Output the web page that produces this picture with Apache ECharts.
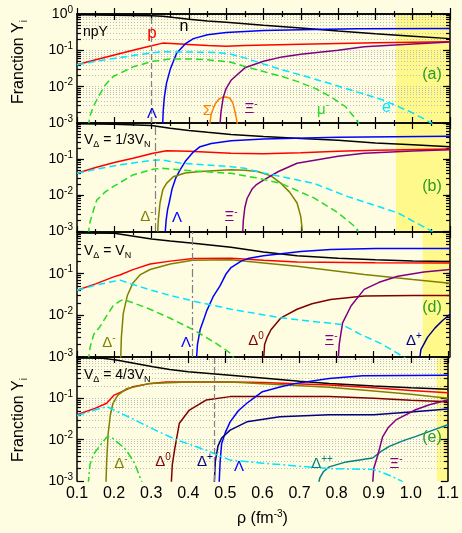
<!DOCTYPE html>
<html><head><meta charset="utf-8">
<script src="https://cdn.jsdelivr.net/npm/echarts@6/dist/echarts.min.js"></script>
<style>html,body{margin:0;padding:0;background:#fefce1}#c{width:462px;height:533px}</style>
</head><body><div id="c"></div><script>
// ---------- data: [rho, fraction] ----------
// panel (a) npY
const a_n  = [[0.1,0.95],[0.2,0.93],[0.3,0.9],[0.33,0.87],[0.36,0.8],[0.4,0.72],[0.45,0.64],[0.5,0.59],[0.6,0.49],[0.7,0.41],[0.8,0.34],[0.9,0.285],[1.0,0.245],[1.1,0.21]];
const a_p  = [[0.1,0.04],[0.15,0.055],[0.2,0.074],[0.25,0.1],[0.3,0.134],[0.33,0.158],[0.4,0.145],[0.45,0.135],[0.5,0.13],[0.55,0.135],[0.7,0.148],[0.9,0.162],[1.1,0.172]];
const a_L  = [[0.3295,0.0008],[0.331,0.002],[0.334,0.005],[0.34,0.0125],[0.35,0.03],[0.367,0.083],[0.39,0.15],[0.412,0.21],[0.45,0.27],[0.5,0.31],[0.6,0.35],[0.7,0.37],[0.85,0.39],[1.1,0.4]];
const a_S  = [[0.455,0.0008],[0.46,0.0018],[0.47,0.0033],[0.48,0.0045],[0.49,0.0051],[0.5,0.0052],[0.51,0.0048],[0.518,0.0035],[0.524,0.002],[0.528,0.0012],[0.531,0.0008]];
const a_X  = [[0.483,0.0008],[0.486,0.002],[0.492,0.005],[0.5,0.009],[0.513,0.015],[0.55,0.033],[0.6,0.05],[0.65,0.066],[0.7,0.078],[0.8,0.1],[0.87,0.126],[1.0,0.15],[1.1,0.17]];
const a_mu = [[0.13,0.0008],[0.135,0.0016],[0.145,0.003],[0.153,0.0043],[0.175,0.011],[0.197,0.019],[0.25,0.035],[0.304,0.05],[0.35,0.058],[0.4,0.058],[0.45,0.055],[0.513,0.047],[0.55,0.036],[0.6,0.026],[0.65,0.019],[0.69,0.014],[0.74,0.0088],[0.78,0.0053],[0.82,0.0028],[0.85,0.0012],[0.86,0.0008]];
const a_e  = [[0.1,0.04],[0.15,0.05],[0.2,0.06],[0.25,0.072],[0.3,0.085],[0.33,0.091],[0.4,0.09],[0.45,0.088],[0.48,0.086],[0.513,0.078],[0.55,0.062],[0.6,0.042],[0.65,0.029],[0.7,0.021],[0.78,0.012],[0.85,0.0072],[0.92,0.0043],[1.0,0.0019],[1.05,0.001],[1.06,0.0008]];
// panel (b) V_D = 1/3 V_N
const b_n  = [[0.1,0.95],[0.2,0.93],[0.3,0.85],[0.35,0.72],[0.4,0.62],[0.45,0.55],[0.513,0.48],[0.6,0.42],[0.7,0.37],[0.8,0.33],[0.9,0.28],[1.0,0.25],[1.1,0.22]];
const b_p  = [[0.1,0.04],[0.15,0.058],[0.2,0.08],[0.25,0.105],[0.304,0.144],[0.34,0.17],[0.4,0.165],[0.513,0.144],[0.6,0.14],[0.7,0.15],[0.8,0.165],[0.9,0.175],[1.1,0.19]];
const b_L  = [[0.336,0.0008],[0.339,0.002],[0.343,0.004],[0.347,0.006],[0.355,0.015],[0.365,0.03],[0.376,0.049],[0.39,0.085],[0.41,0.15],[0.43,0.22],[0.46,0.27],[0.513,0.32],[0.6,0.36],[0.8,0.4],[1.1,0.43]];
const b_Dm = [[0.316,0.0008],[0.318,0.002],[0.3225,0.006],[0.33,0.014],[0.34,0.021],[0.358,0.032],[0.39,0.041],[0.43,0.045],[0.513,0.05],[0.55,0.049],[0.584,0.045],[0.62,0.034],[0.647,0.021],[0.67,0.012],[0.69,0.006],[0.7,0.0025],[0.705,0.0008]];
const b_X  = [[0.544,0.0008],[0.546,0.002],[0.55,0.0045],[0.556,0.008],[0.57,0.015],[0.58,0.019],[0.6,0.026],[0.64,0.045],[0.69,0.076],[0.8,0.12],[0.87,0.144],[1.0,0.168],[1.1,0.18]];
const b_mu = [[0.13,0.0008],[0.135,0.0018],[0.145,0.004],[0.153,0.0072],[0.175,0.012],[0.197,0.017],[0.25,0.036],[0.304,0.052],[0.33,0.055],[0.43,0.045],[0.513,0.04],[0.58,0.03],[0.647,0.021],[0.735,0.0083],[0.8,0.0032],[0.85,0.0012],[0.855,0.0008]];
const b_e  = [[0.1,0.04],[0.15,0.052],[0.2,0.065],[0.25,0.078],[0.304,0.092],[0.33,0.094],[0.376,0.077],[0.45,0.068],[0.513,0.061],[0.55,0.055],[0.6,0.041],[0.735,0.021],[0.826,0.009],[0.96,0.0032],[1.05,0.001],[1.06,0.0008]];
// panel (d) V_D = V_N
const d_n  = [[0.1,0.95],[0.2,0.93],[0.3,0.68],[0.35,0.61],[0.412,0.54],[0.513,0.43],[0.6,0.33],[0.69,0.27],[0.8,0.235],[0.9,0.215],[1.0,0.2],[1.1,0.195]];
const d_p  = [[0.1,0.04],[0.15,0.057],[0.2,0.085],[0.215,0.093],[0.25,0.125],[0.296,0.17],[0.35,0.2],[0.412,0.23],[0.513,0.235],[0.6,0.21],[0.69,0.19],[0.9,0.182],[1.1,0.18]];
const d_Dm = [[0.217,0.0008],[0.219,0.003],[0.224,0.011],[0.235,0.03],[0.25,0.06],[0.27,0.095],[0.296,0.126],[0.35,0.17],[0.41,0.21],[0.513,0.215],[0.6,0.18],[0.69,0.15],[0.87,0.096],[1.0,0.072],[1.1,0.059]];
const d_L  = [[0.42,0.0008],[0.423,0.002],[0.43,0.0045],[0.44,0.008],[0.448,0.013],[0.465,0.028],[0.483,0.05],[0.5,0.1],[0.513,0.14],[0.54,0.2],[0.558,0.23],[0.6,0.27],[0.647,0.3],[0.7,0.34],[0.78,0.38],[0.9,0.4],[1.1,0.4]];
const d_D0 = [[0.6,0.0008],[0.603,0.002],[0.61,0.003],[0.62,0.0045],[0.647,0.0087],[0.69,0.014],[0.73,0.019],[0.78,0.024],[0.87,0.029],[1.0,0.03],[1.1,0.03]];
const d_X  = [[0.8,0.0008],[0.803,0.002],[0.812,0.0066],[0.835,0.017],[0.87,0.042],[0.91,0.062],[0.96,0.087],[1.03,0.11],[1.1,0.126]];
const d_Dp = [[1.018,0.0008],[1.022,0.0015],[1.04,0.003],[1.06,0.005],[1.08,0.0075],[1.1,0.0105]];
const d_mu = [[0.13,0.0008],[0.135,0.0017],[0.145,0.0035],[0.162,0.0054],[0.18,0.01],[0.197,0.017],[0.215,0.022],[0.224,0.024],[0.25,0.02],[0.296,0.014],[0.35,0.0085],[0.412,0.0045],[0.47,0.0022],[0.513,0.0012],[0.525,0.0008]];
const d_e  = [[0.1,0.04],[0.15,0.053],[0.2,0.066],[0.215,0.07],[0.25,0.055],[0.3,0.04],[0.35,0.03],[0.412,0.022],[0.513,0.014],[0.647,0.0087],[0.81,0.006],[0.86,0.0035],[0.915,0.0021],[0.976,0.001],[0.99,0.0008]];
// panel (e) V_D = 4/3 V_N
const e_n  = [[0.1,0.95],[0.17,0.93],[0.206,0.85],[0.25,0.72],[0.305,0.58],[0.35,0.5],[0.4,0.44],[0.513,0.36],[0.6,0.31],[0.7,0.26],[0.78,0.23],[0.9,0.2],[1.0,0.18],[1.1,0.165]];
const e_p  = [[0.1,0.04],[0.15,0.058],[0.18,0.076],[0.2,0.12],[0.25,0.19],[0.3,0.23],[0.34,0.25],[0.513,0.25],[0.6,0.24],[0.78,0.21],[0.9,0.18],[1.0,0.155],[1.1,0.137]];
const e_Dm = [[0.178,0.0008],[0.18,0.003],[0.184,0.014],[0.19,0.04],[0.197,0.076],[0.21,0.12],[0.233,0.17],[0.296,0.23],[0.4,0.25],[0.513,0.25],[0.78,0.185],[0.9,0.15],[1.0,0.125],[1.1,0.1]];
const e_D0 = [[0.354,0.0008],[0.357,0.0025],[0.363,0.0056],[0.376,0.025],[0.403,0.052],[0.448,0.091],[0.513,0.11],[0.78,0.11],[0.9,0.1],[1.0,0.09],[1.1,0.083]];
const e_L  = [[0.483,0.0008],[0.486,0.003],[0.49,0.008],[0.5,0.015],[0.513,0.027],[0.535,0.05],[0.558,0.076],[0.6,0.145],[0.65,0.19],[0.69,0.23],[0.78,0.3],[0.87,0.35],[1.1,0.36]];
const e_Dp = [[0.47,0.0008],[0.473,0.003],[0.48,0.007],[0.49,0.011],[0.513,0.017],[0.558,0.027],[0.647,0.036],[0.78,0.04],[0.9,0.04],[1.0,0.047],[1.1,0.055]];
const e_Dpp= [[0.75,0.0008],[0.755,0.0012],[0.765,0.0017],[0.78,0.0022],[0.826,0.0029],[0.897,0.0036],[0.92,0.0052],[0.942,0.0069],[0.98,0.0095],[1.014,0.012],[1.06,0.017],[1.1,0.023]];
const e_X  = [[0.897,0.0008],[0.9,0.002],[0.91,0.0039],[0.924,0.0117],[0.94,0.02],[0.96,0.03],[1.013,0.053],[1.05,0.07],[1.1,0.091]];
const e_mu = [[0.13,0.0008],[0.135,0.0025],[0.145,0.0045],[0.153,0.0056],[0.17,0.009],[0.182,0.012],[0.195,0.011],[0.215,0.0078],[0.233,0.0056],[0.255,0.0027],[0.274,0.001],[0.276,0.0008]];
const e_e  = [[0.1,0.038],[0.14,0.05],[0.18,0.063],[0.25,0.032],[0.3,0.019],[0.367,0.01],[0.45,0.0055],[0.513,0.0032],[0.6,0.0027],[0.78,0.002],[0.9,0.0019],[0.94,0.0014],[0.975,0.001],[0.985,0.0008]];

// tick values
const xTickLabels = ['0.1','0.2','0.3','0.4','0.5','0.6','0.7','0.8','0.9','1.0','1.1'];
const yDecades = [0.001, 0.01, 0.1, 1];
const minorMultipliers = [2,3,4,5,6,7,8,9];
const bandStart = [0.955, 0.955, 1.027, 1.07];   // yellow region start
const vLine = [0.305, 0.31, 0.41, 0.465];         // vertical guide lines

// ---------- styling / layout ----------
const FONT = 'Liberation Sans, Arial, sans-serif';
const C = {n:'#000000', p:'#ff0000', L:'#0000ff', S:'#ff8000', X:'#800080', mu:'#22dd22', e:'#00e6ff',
           Dm:'#808000', D0:'#800000', Dp:'#000080', Dpp:'#008080', lab:'#2a9a2a'};
const layout = [{top:14,height:109},{top:123,height:108},{top:232,height:125},{top:357,height:124}];
const DASH = [7,4], DASHDOT = [8,3,2,3];
const panelSeries = [
  [[a_n,'n'],[a_p,'p'],[a_L,'L'],[a_S,'S'],[a_X,'X'],[a_mu,'mu',DASH],[a_e,'e',DASH]],
  [[b_n,'n'],[b_p,'p'],[b_L,'L'],[b_Dm,'Dm'],[b_X,'X'],[b_mu,'mu',DASH],[b_e,'e',DASH]],
  [[d_n,'n'],[d_p,'p'],[d_Dm,'Dm'],[d_L,'L'],[d_D0,'D0'],[d_X,'X'],[d_Dp,'Dp'],[d_mu,'mu',DASH],[d_e,'e',DASH]],
  [[e_n,'n'],[e_p,'p'],[e_Dm,'Dm'],[e_D0,'D0'],[e_L,'L'],[e_Dp,'Dp'],[e_Dpp,'Dpp'],[e_X,'X'],[e_mu,'mu',DASHDOT],[e_e,'e',DASHDOT]]
];
const vLineType = [[6,3], DASHDOT, DASHDOT, [6,3]];
const gridLines = [true,false,false,true];

const minorLog = [];
for (const d of [-3,-2,-1]) for (const m of minorMultipliers) minorLog.push(d + Math.log10(m));
const gridLog = minorLog.concat([-2,-1]);

const grids=[], xAxes=[], yAxes=[], series=[];
const axLine = {show:true, lineStyle:{color:'#000', width:1.5}};
const tickStyle = {color:'#000', width:1.2};
layout.forEach((L,g)=>{
  grids.push({left:77, right:12, top:L.top, height:L.height});
  const xbase = {type:'value', gridIndex:g, min:0.1, max:1.1, interval:0.1, z:1,
    axisLine:axLine, splitLine:{show:false},
    axisTick:{show:true, inside:true, length:6, lineStyle:tickStyle},
    minorTick:{show:true, splitNumber:2, length:3, lineStyle:tickStyle}};
  xAxes.push(Object.assign({}, xbase, {position:'bottom',
    axisLabel:{show:g===3, formatter:v=>xTickLabels[Math.round((v-0.1)*10)], fontSize:16, color:'#000', fontFamily:FONT, margin:5},
    name: g===3 ? '{a|ρ (fm}{s|-3}{a|)}' : '', nameLocation:'middle', nameGap:28,
    nameTextStyle:{rich:{a:{fontSize:16, fontFamily:FONT, color:'#000', lineHeight:20},
                         s:{fontSize:10, fontFamily:FONT, color:'#000', lineHeight:10, verticalAlign:'top'}}}}));
  xAxes.push(Object.assign({}, xbase, {position:'top', axisLabel:{show:false}}));
  const ybase = {type:'log', logBase:10, gridIndex:g, min:yDecades[0], max:yDecades[3], z:1,
    axisLine:axLine, splitLine:{show:false},
    axisTick:{show:true, inside:true, length:7, lineStyle:tickStyle}};
  yAxes.push(Object.assign({}, ybase, {position:'left',
    axisLabel:{show:true, margin:4, formatter:v=>{const e=Math.round(Math.log10(v)); if(e===0 && g>0) return ''; return '{b|10}{s|'+e+'}';},
      rich:{b:{fontSize:14, fontFamily:FONT, color:'#000', lineHeight:18},
            s:{fontSize:10, fontFamily:FONT, color:'#000', lineHeight:9, verticalAlign:'top'}}}}));
  yAxes.push(Object.assign({}, ybase, {position:'right', axisLabel:{show:false}}));
  const mbase = {type:'value', gridIndex:g, min:-3, max:0, z:1, axisLine:{show:false}, axisLabel:{show:false}};
  yAxes.push(Object.assign({}, mbase, {position:'left',
    axisTick:{show:true, inside:true, length:4, lineStyle:tickStyle, customValues:gridLog},
    splitLine:{show:gridLines[g], lineStyle:{color:'#bdbdbd', type:[1,2], width:1}}}));
  yAxes.push(Object.assign({}, mbase, {position:'right',
    axisTick:{show:true, inside:true, length:4, lineStyle:tickStyle, customValues:gridLog},
    splitLine:{show:false}}));
  // band + guide line holder
  series.push({type:'line', xAxisIndex:2*g, yAxisIndex:4*g, data:[], silent:true, z:0,
    markArea:{silent:true, z:0, itemStyle:{color:'#fff88a'}, data:[[{xAxis:bandStart[g]},{xAxis:1.1}]]},
    markLine:{silent:true, symbol:['none','none'], label:{show:false},
      lineStyle:{color:'#808080', width:1.2, type:vLineType[g]}, data:[{xAxis:vLine[g]}]}});
  panelSeries[g].forEach(([data,key,dash])=>{
    series.push({type:'line', xAxisIndex:2*g, yAxisIndex:4*g, data:data, showSymbol:false, symbol:'none',
      clip:true, z:2, lineStyle:{color:C[key], width:1.5, type: dash || 'solid'}});
  });
});

// ---------- text annotations ----------
function T(x,y,str,color,size,align){
  const s = Math.round(size*0.65);
  return {type:'text', x:x, y:y, z:100, silent:true, style:{text:str, fill:color, align:align||'center', verticalAlign:'middle',
    font: size+'px '+FONT,
    rich:{m:{fontSize:size, fontFamily:FONT, fill:color, lineHeight:size+4},
          s:{fontSize:s, fontFamily:FONT, fill:color, lineHeight:s, verticalAlign:'top'},
          d:{fontSize:s, fontFamily:FONT, fill:color, lineHeight:s, verticalAlign:'bottom'}}}};
}
const graphics = [
  // panel a
  T(83,32,'{m|npY}','#000',14,'left'), T(152,33,'{m|p}',C.p,17), T(184,27,'{m|n}','#000',16),
  T(152,114,'{m|Λ}',C.L,15), T(209,111,'{m|Σ}{s|-}',C.S,15), T(251,109,'{m|Ξ}{s|-}',C.X,15),
  T(323,110,'{m|μ}{s|-}',C.mu,15), T(388,108,'{m|e}{s|-}',C.e,16), T(432,75,'{m|(a)}',C.lab,16),
  // panel b
  T(84,140,'{m|V}{d|Δ}{m| = 1/3V}{d|N}','#000',14,'left'),
  T(147,217,'{m|Δ}{s|-}',C.Dm,15), T(177,218,'{m|Λ}',C.L,15), T(231,217,'{m|Ξ}{s|-}',C.X,15), T(432,187,'{m|(b)}',C.lab,16),
  // panel d
  T(84,251,'{m|V}{d|Δ}{m| = V}{d|N}','#000',14,'left'),
  T(109,343,'{m|Δ}{s|-}',C.Dm,15), T(186,343,'{m|Λ}',C.L,15), T(256,341,'{m|Δ}{s|0}',C.D0,15),
  T(331,341,'{m|Ξ}{s|-}',C.X,15), T(414,341,'{m|Δ}{s|+}',C.Dp,15), T(432,308,'{m|(d)}',C.lab,16),
  // panel e
  T(84,375,'{m|V}{d|Δ}{m| = 4/3V}{d|N}','#000',14,'left'),
  T(121,464,'{m|Δ}{s|-}',C.Dm,15), T(163,462,'{m|Δ}{s|0}',C.D0,15), T(205,462,'{m|Δ}{s|+}',C.Dp,15),
  T(239,467,'{m|Λ}',C.L,15), T(322,464,'{m|Δ}{s|++}',C.Dpp,15), T(396,464,'{m|Ξ}{s|-}',C.X,15),
  T(432,438,'{m|(e)}',C.lab,16),
  // y titles
  Object.assign(T(19,62,'{m|Franction Y}{d|i}','#000',16), {rotation:Math.PI/2}),
  Object.assign(T(19,420,'{m|Franction Y}{d|i}','#000',16), {rotation:Math.PI/2})
];

const chart = echarts.init(document.getElementById('c'), null, {renderer:'canvas'});
chart.setOption({
  animation:false, backgroundColor:'#fefce1',
  grid:grids, xAxis:xAxes, yAxis:yAxes, series:series, graphic:graphics
});
</script></body></html>
